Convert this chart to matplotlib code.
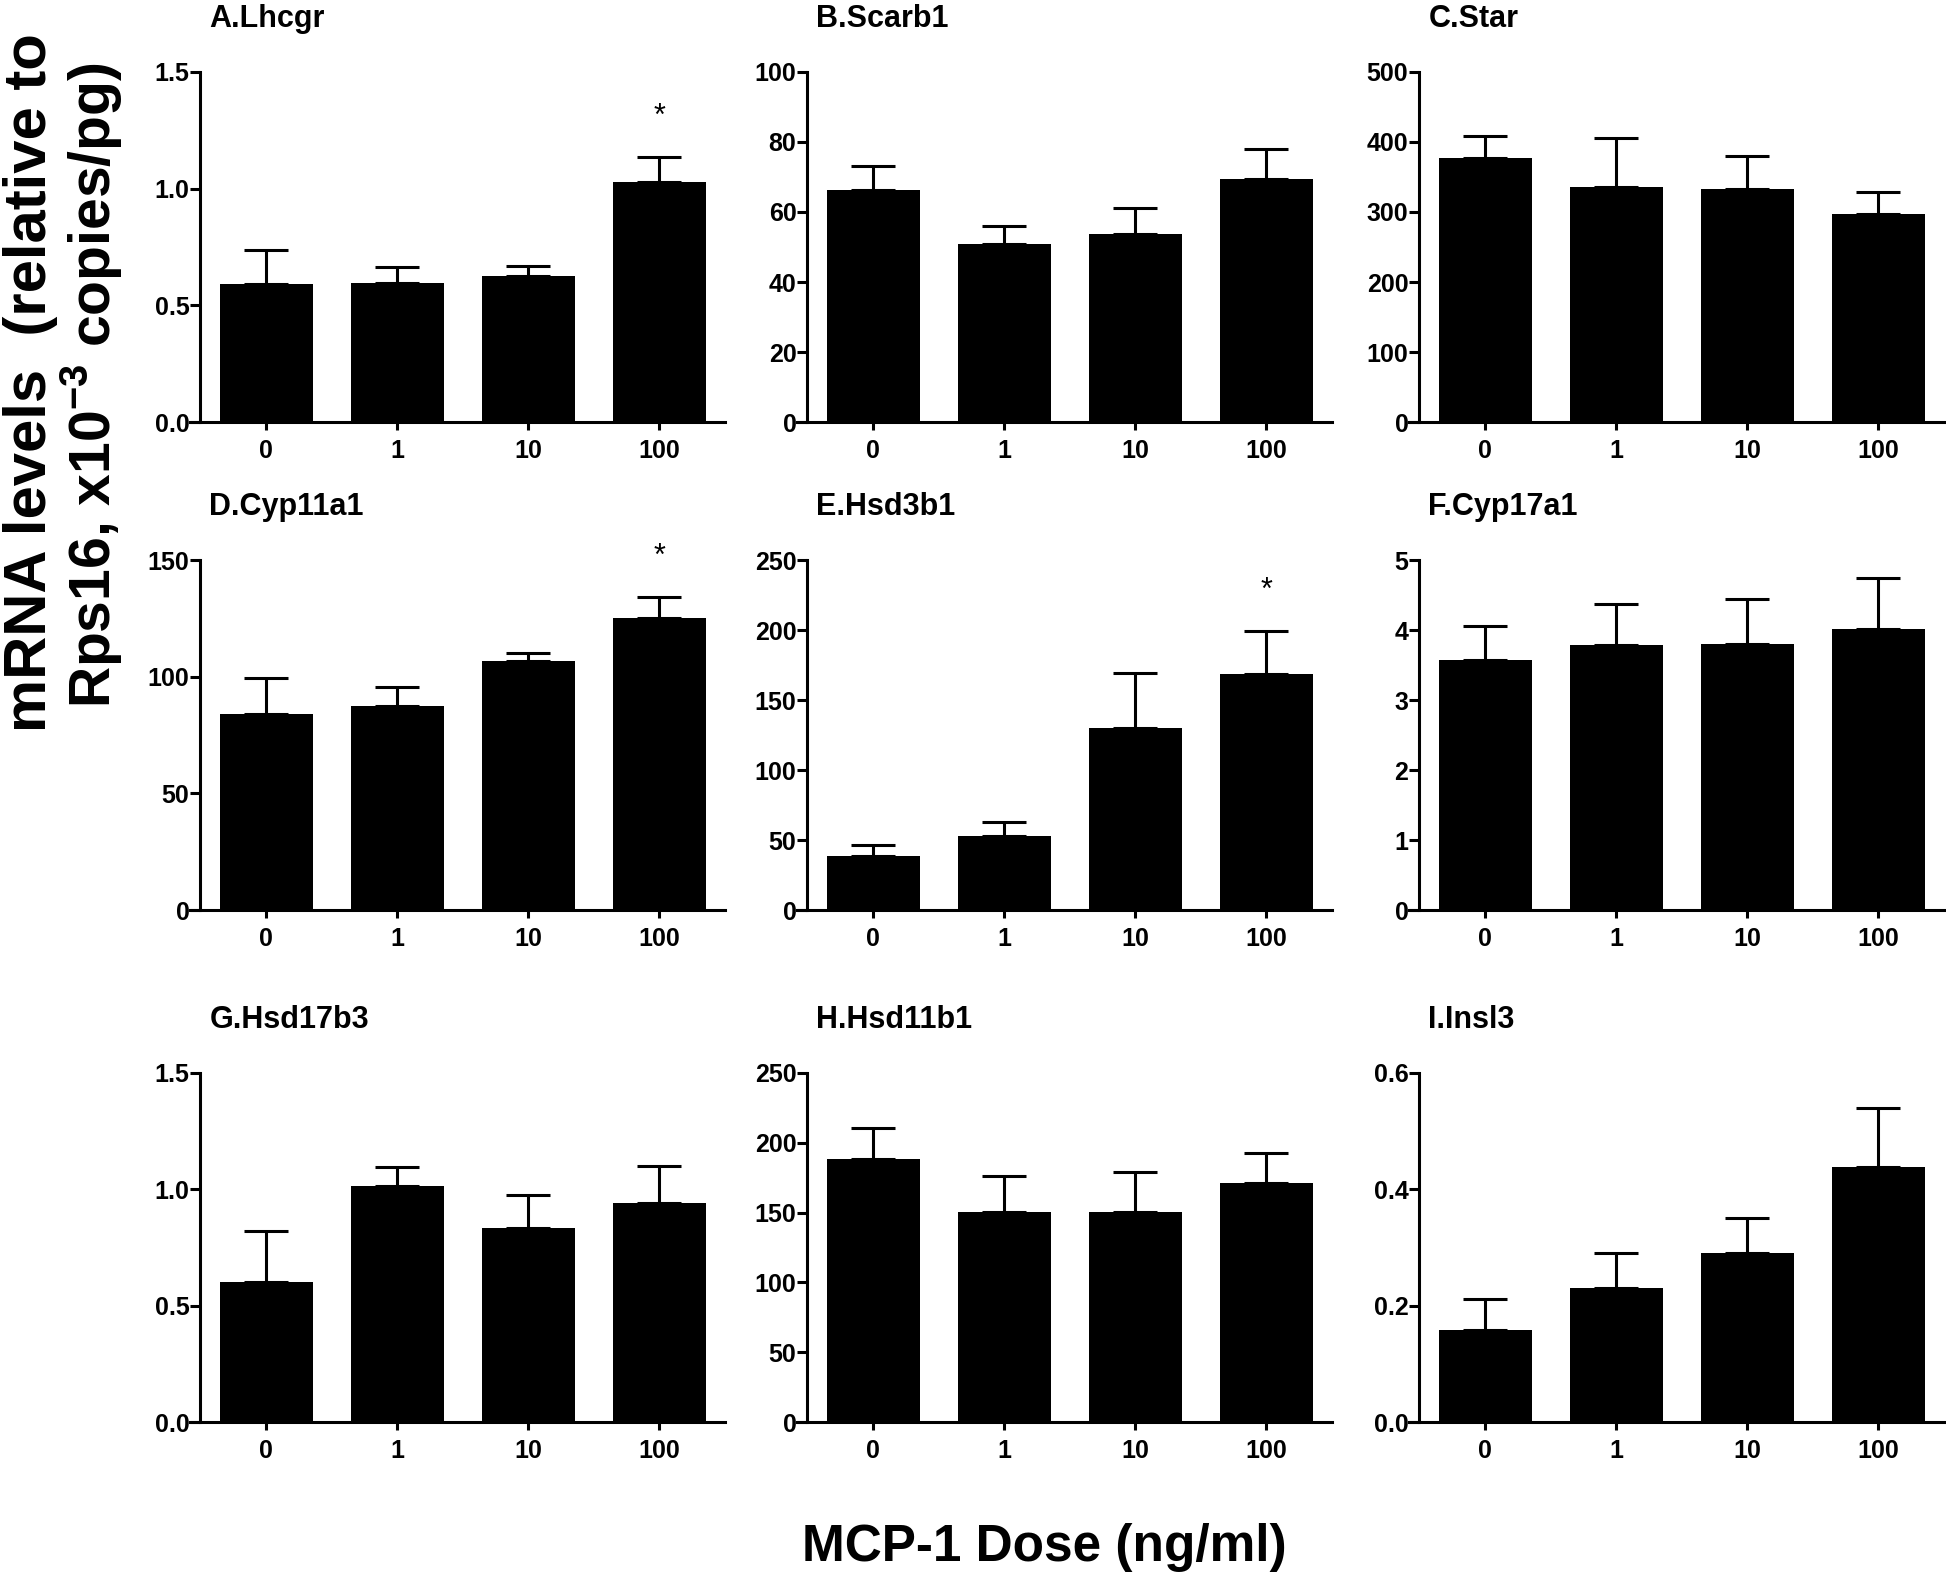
import numpy as np
import matplotlib
matplotlib.use("Agg")
import matplotlib.pyplot as plt

plt.rcParams["font.family"] = ["Liberation Sans", "DejaVu Sans"]
plt.rcParams["mathtext.fontset"] = "custom"
plt.rcParams["mathtext.rm"] = "Liberation Sans"
plt.rcParams["mathtext.bf"] = "Liberation Sans:bold"

doses = ["0", "1", "10", "100"]

titles = ["A.Lhcgr", "B.Scarb1", "C.Star",
          "D.Cyp11a1", "E.Hsd3b1", "F.Cyp17a1",
          "G.Hsd17b3", "H.Hsd11b1", "I.Insl3"]

lhcgr = [0.590, 0.596, 0.627, 1.029]
lhcgr_sem = [0.149, 0.068, 0.040, 0.107]
scarb1 = [66.2, 50.8, 53.8, 69.5]
scarb1_sem = [6.9, 5.1, 7.4, 8.4]
star = [377, 335, 333, 297]
star_sem = [32, 71, 47, 32]
cyp11a1 = [83.9, 87.6, 106.9, 125.3]
cyp11a1_sem = [15.4, 8.1, 3.4, 9.0]
hsd3b1 = [38.6, 53.1, 130.2, 168.3]
hsd3b1_sem = [7.8, 10.0, 38.8, 30.7]
cyp17a1 = [3.57, 3.78, 3.80, 4.01]
cyp17a1_sem = [0.49, 0.59, 0.64, 0.73]
hsd17b3 = [0.603, 1.015, 0.834, 0.942]
hsd17b3_sem = [0.219, 0.079, 0.141, 0.158]
hsd11b1 = [188.5, 150.6, 150.1, 171.4]
hsd11b1_sem = [22.4, 25.5, 28.9, 21.4]
insl3 = [0.158, 0.230, 0.290, 0.438]
insl3_sem = [0.053, 0.061, 0.060, 0.101]

means = [lhcgr, scarb1, star, cyp11a1, hsd3b1, cyp17a1, hsd17b3, hsd11b1, insl3]
sems = [lhcgr_sem, scarb1_sem, star_sem, cyp11a1_sem, hsd3b1_sem,
        cyp17a1_sem, hsd17b3_sem, hsd11b1_sem, insl3_sem]

yticks = [
    ([0, 0.5, 1.0, 1.5], ["0.0", "0.5", "1.0", "1.5"]),
    ([0, 20, 40, 60, 80, 100], None),
    ([0, 100, 200, 300, 400, 500], None),
    ([0, 50, 100, 150], None),
    ([0, 50, 100, 150, 200, 250], None),
    ([0, 1, 2, 3, 4, 5], None),
    ([0, 0.5, 1.0, 1.5], ["0.0", "0.5", "1.0", "1.5"]),
    ([0, 50, 100, 150, 200, 250], None),
    ([0, 0.2, 0.4, 0.6], ["0.0", "0.2", "0.4", "0.6"]),
]

# significant bars (panel index -> bar index)
signif = {0: 3, 3: 3, 4: 3}

W, H = 1946, 1581
fig = plt.figure(figsize=(W / 100, H / 100), dpi=100)

col_left = [190, 797, 1409]
box_w = 535
row_top = [72, 560, 1073]
row_bot = [422, 910, 1422]

x = np.arange(4)
lw = 2.2

for i in range(9):
    r, c = divmod(i, 3)
    l, t, b = col_left[c], row_top[r], row_bot[r]
    ax = fig.add_axes([l / W, 1 - b / H, box_w / W, (b - t) / H])

    ax.bar(x, means[i], width=0.71, color="black", edgecolor="none", zorder=2)
    ax.errorbar(x, means[i], yerr=[np.zeros(4), sems[i]], fmt="none",
                ecolor="black", elinewidth=lw, capsize=16, capthick=lw, zorder=1)

    ticks, labels = yticks[i]
    ax.set_ylim(0, ticks[-1])
    ax.set_yticks(ticks)
    if labels is not None:
        ax.set_yticklabels(labels)
    ax.set_xlim(-0.58, 3.5)
    ax.set_xticks(x)
    ax.set_xticklabels(doses)

    for side in ["top", "right"]:
        ax.spines[side].set_visible(False)
    ax.spines["left"].set_position(("data", -0.5))
    ax.spines["left"].set_linewidth(lw)
    ax.spines["bottom"].set_linewidth(lw)
    ax.tick_params(axis="y", direction="out", length=7, width=lw, pad=1, labelsize=18)
    ax.tick_params(axis="x", direction="out", length=6, width=lw, pad=6, labelsize=18)
    for lab in ax.get_xticklabels() + ax.get_yticklabels():
        lab.set_fontweight("bold")

    ax.text(0.036, 1 + 53 / (b - t), titles[i], transform=ax.transAxes,
            ha="left", va="center", fontsize=22, fontweight="bold")

    if i in signif:
        j = signif[i]
        ax.annotate("*", (x[j], means[i][j] + sems[i][j]), xytext=(0, 40),
                    textcoords="offset pixels", ha="center", va="center",
                    fontsize=22)

fig.text(31 / W, 1 - 383 / H, "mRNA levels  (relative to", rotation=90,
         ha="center", va="center", fontsize=43, fontweight="bold")
fig.text(92 / W, 1 - 385 / H, r"Rps16, x10$^{\mathbf{-3}}$ copies/pg)", rotation=90,
         ha="center", va="center", fontsize=41, fontweight="bold")
fig.text(1044 / W, 1 - 1547 / H, "MCP-1 Dose (ng/ml)", ha="center", va="center",
         fontsize=37, fontweight="bold")

fig.savefig("out.png", dpi=100)
